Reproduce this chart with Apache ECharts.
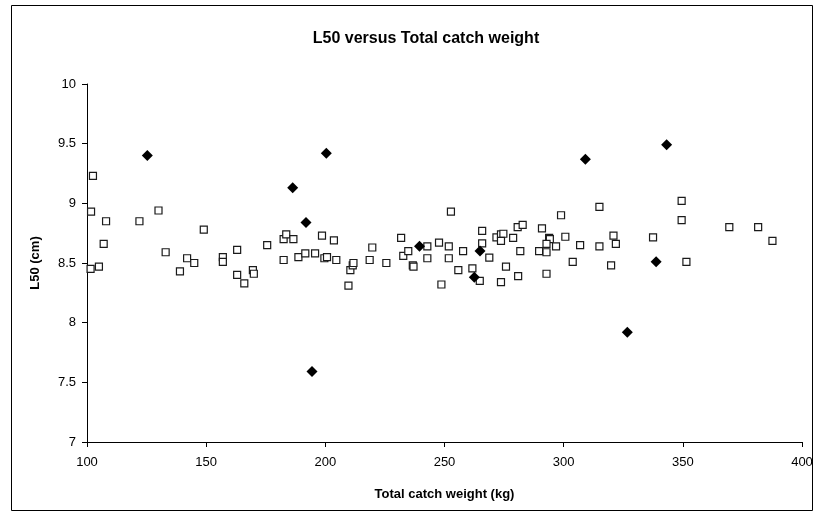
<!DOCTYPE html>
<html>
<head>
<meta charset="utf-8">
<title>L50 versus Total catch weight</title>
<script src="https://cdn.jsdelivr.net/npm/echarts@6/dist/echarts.min.js"></script>
<style>
  html, body { margin: 0; padding: 0; background: #fff; }
  #chart { width: 819px; height: 517px; }
</style>
</head>
<body>
<div id="chart"></div>
<script>
// Hauls plotted as open squares: total catch weight (kg) and L50 (cm)
var squareWeight = [101.5, 101.7, 102.5, 105, 107, 108, 122, 130, 133, 139, 142, 145, 149, 157, 157, 163, 163, 166, 169.6, 170,
  175.6, 182.5, 183.6, 186.6, 182.5, 188.7, 191.6, 195.7, 198.6, 199.6, 200.7, 203.6, 204.6, 209.7, 210.5, 211.5, 211.8, 218.6, 219.7, 225.6,
  231.8, 232.7, 234.8, 236.7, 237, 242.8, 242.8, 247.7, 248.7, 251.8, 251.8, 252.7, 255.8, 257.8, 261.7, 264.8, 265.8, 265.8, 268.8, 271.8,
  273.7, 274.7, 273.7, 273.7, 275.8, 278.8, 280.7, 282.8, 281.8, 280.9, 290.9, 293.9, 294.2, 292.8, 289.7, 292.8, 292.8, 296.8, 298.9, 300.7,
  303.8, 306.9, 315, 315, 319.9, 320.9, 321.9, 337.5, 349.5, 349.5, 351.5, 369.5, 381.6, 387.6];
var squareL50 = [8.45, 8.93, 9.23, 8.47, 8.66, 8.85, 8.85, 8.94, 8.59, 8.43, 8.54, 8.50, 8.78, 8.55, 8.51, 8.61, 8.40, 8.33, 8.44, 8.41,
  8.65, 8.70, 8.74, 8.70, 8.525, 8.55, 8.58, 8.58, 8.73, 8.54, 8.55, 8.69, 8.525, 8.31, 8.44, 8.48, 8.50, 8.525, 8.63, 8.50,
  8.71, 8.56, 8.60, 8.48, 8.47, 8.64, 8.54, 8.67, 8.32, 8.64, 8.54, 8.93, 8.44, 8.60, 8.455, 8.35, 8.77, 8.665, 8.545, 8.715,
  8.74, 8.745, 8.685, 8.34, 8.47, 8.71, 8.80, 8.82, 8.60, 8.39, 8.79, 8.71, 8.70, 8.66, 8.60, 8.59, 8.41, 8.64, 8.90, 8.72,
  8.51, 8.65, 8.97, 8.64, 8.48, 8.73, 8.66, 8.715, 9.02, 8.86, 8.51, 8.80, 8.80, 8.685];

// Hauls plotted as filled diamonds
var diamondWeight = [125.3, 186.3, 191.9, 194.4, 200.4, 239.5, 262.5, 264.9, 309.1, 326.7, 338.8, 343.2];
var diamondL50 = [9.40, 9.13, 8.84, 7.59, 9.42, 8.64, 8.38, 8.60, 9.37, 7.92, 8.51, 9.49];

// Axis ranges and tick spacing
var xTicks = { min: 100, max: 400, interval: 50 };
var yTicks = { min: 7, max: 10, interval: 0.5 };

function pairs(xs, ys) {
  return xs.map(function (x, i) { return [x, ys[i]]; });
}

var fontFamily = '"Liberation Sans", Arial, sans-serif';
var chart = echarts.init(document.getElementById('chart'), null, { renderer: 'canvas' });

chart.setOption({
  animation: false,
  backgroundColor: '#ffffff',
  title: {
    text: 'L50 versus Total catch weight',
    left: 421,
    top: 26,
    textAlign: 'center',
    textStyle: { fontFamily: fontFamily, fontSize: 16, fontWeight: 'bold', color: '#000' }
  },
  graphic: [{
    type: 'rect',
    shape: { x: 11.5, y: 5.5, width: 801, height: 505 },
    style: { fill: 'none', stroke: '#000', lineWidth: 1 },
    silent: true
  }],
  grid: { left: 87, right: 17, top: 84, bottom: 75 },
  xAxis: {
    type: 'value',
    min: xTicks.min, max: xTicks.max, interval: xTicks.interval,
    name: 'Total catch weight (kg)',
    nameLocation: 'middle',
    nameGap: 46,
    nameTextStyle: { fontFamily: fontFamily, fontSize: 13, fontWeight: 'bold', color: '#000' },
    axisLine: { show: true, onZero: false, lineStyle: { color: '#000', width: 1 } },
    axisTick: { show: true, inside: false, length: 5, lineStyle: { color: '#000' } },
    axisLabel: { fontFamily: fontFamily, fontSize: 13, color: '#000', margin: 14 },
    splitLine: { show: false }
  },
  yAxis: {
    type: 'value',
    min: yTicks.min, max: yTicks.max, interval: yTicks.interval,
    name: 'L50 (cm)',
    nameLocation: 'middle',
    nameGap: 45,
    nameRotate: 90,
    nameTextStyle: { fontFamily: fontFamily, fontSize: 13, fontWeight: 'bold', color: '#000' },
    axisLine: { show: true, onZero: false, lineStyle: { color: '#000', width: 1 } },
    axisTick: { show: true, inside: false, length: 5, lineStyle: { color: '#000' } },
    axisLabel: { fontFamily: fontFamily, fontSize: 13, color: '#000', margin: 11 },
    splitLine: { show: false }
  },
  series: [
    {
      name: 'Open squares',
      type: 'scatter',
      symbol: 'rect',
      symbolSize: 7,
      itemStyle: { color: '#ffffff', borderColor: '#1a1a1a', borderWidth: 1.2, opacity: 1 },
      data: pairs(squareWeight, squareL50),
      z: 2
    },
    {
      name: 'Filled diamonds',
      type: 'scatter',
      symbol: 'diamond',
      symbolSize: 11,
      itemStyle: { color: '#000000', opacity: 1 },
      data: pairs(diamondWeight, diamondL50),
      z: 3
    }
  ]
});
</script>
</body>
</html>
